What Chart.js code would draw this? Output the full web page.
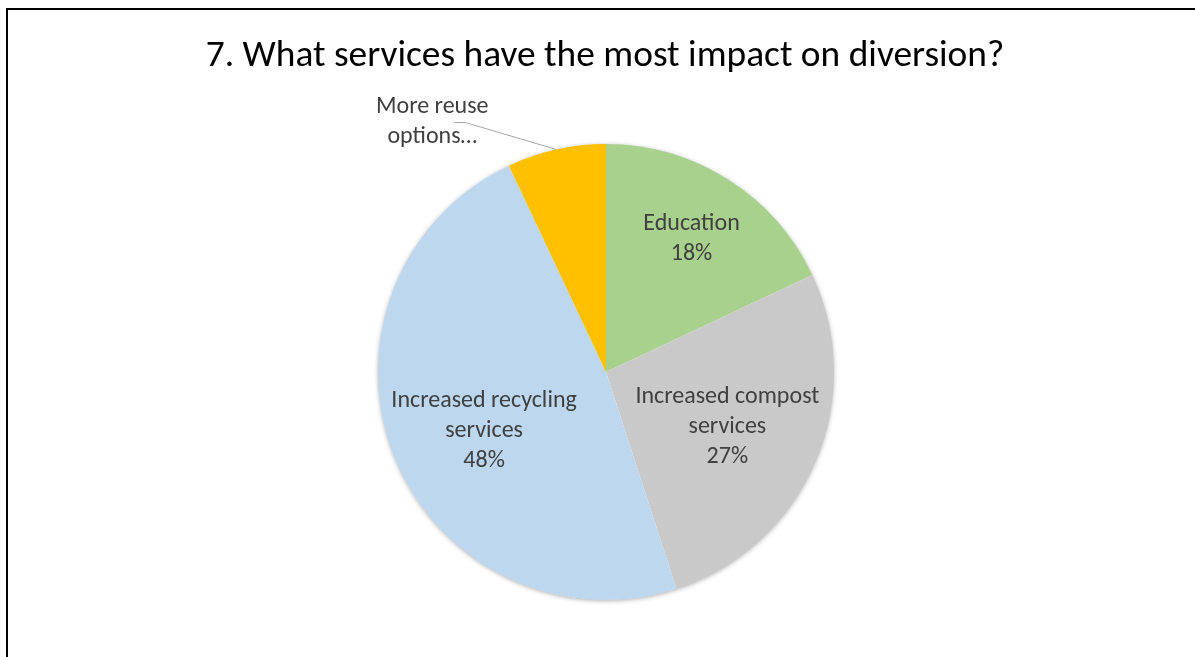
<!DOCTYPE html>
<html>
<head>
<meta charset="utf-8">
<script src="https://cdn.jsdelivr.net/npm/chart.js@4.4.1/dist/chart.umd.min.js"></script>
<style>
  html, body { margin: 0; padding: 0; background: #fff; overflow: hidden; }
  #wrap { position: relative; width: 1195px; height: 657px; }
  #frame { position: absolute; left: 6px; top: 8px; width: 1300px; height: 800px;
           border-left: 2px solid #000; border-top: 2px solid #000; pointer-events: none; }
</style>
</head>
<body>
<div id="wrap">
  <canvas id="pie" width="1195" height="657"></canvas>
  <div id="frame"></div>
</div>
<script>
const chartTitle = '7. What services have the most impact on diversion?';
const categories = ['Education', 'Increased compost services', 'Increased recycling services', 'More reuse options…'];
const labelLines = [['Education'], ['Increased compost', 'services'], ['Increased recycling', 'services'], ['More reuse', 'options…']];
const shares = [18, 27, 48, 7];
const sliceColors = ['#A9D18E', '#C9C9C9', '#BDD7EE', '#FFC000'];

const FONT = 'Carlito, Lato, "Open Sans", sans-serif';

// label distance from centre as a fraction of radius (null = outside with leader line),
// plus a small angular nudge in degrees
const labelRadius = [0.70, 0.58, 0.59, null];
const labelNudge = [0, 0, -3.4, 0];

const piePlugin = {
  id: 'pieExtras',
  beforeDatasetsDraw(chart) {
    const arc = chart.getDatasetMeta(0).data[0];
    if (!arc) return;
    const { ctx } = chart;
    ctx.save();
    ctx.shadowColor = 'rgba(0,0,0,0.35)';
    ctx.shadowBlur = 5;
    ctx.shadowOffsetY = 1;
    ctx.fillStyle = '#fff';
    ctx.beginPath();
    ctx.arc(arc.x, arc.y, arc.outerRadius - 0.5, 0, Math.PI * 2);
    ctx.fill();
    ctx.restore();
  },
  afterDraw(chart) {
    const { ctx } = chart;
    ctx.save();
    ctx.fillStyle = '#000';
    ctx.font = '37.4px ' + FONT;
    ctx.textAlign = 'center';
    ctx.textBaseline = 'middle';
    ctx.fillText(chartTitle, 605, 57);

    ctx.font = '24px ' + FONT;
    ctx.fillStyle = '#404040';
    const lineH = 30;
    chart.getDatasetMeta(0).data.forEach((arc, i) => {
      const p = arc.getProps(['x', 'y', 'startAngle', 'endAngle', 'outerRadius']);
      const mid = (p.startAngle + p.endAngle) / 2 + labelNudge[i] * Math.PI / 180;
      const lines = labelLines[i].slice();
      if (labelRadius[i] !== null) lines.push(shares[i] + '%');
      let cx, cy;
      if (labelRadius[i] !== null) {
        const r = p.outerRadius * labelRadius[i];
        cx = p.x + Math.cos(mid) * r;
        cy = p.y + Math.sin(mid) * r + 2;
      } else {
        const ex = p.x + Math.cos(mid) * p.outerRadius;
        const ey = p.y + Math.sin(mid) * p.outerRadius;
        const elbowX = ex - 91, elbowY = ey - 27;
        ctx.strokeStyle = '#A6A6A6';
        ctx.lineWidth = 1;
        ctx.beginPath();
        ctx.moveTo(ex, ey);
        ctx.lineTo(elbowX, elbowY);
        ctx.lineTo(elbowX - 11, elbowY);
        ctx.stroke();
        cx = elbowX - 33;
        cy = elbowY;
      }
      const top = cy - (lines.length - 1) * lineH / 2;
      lines.forEach((t, k) => ctx.fillText(t, cx, top + k * lineH));
    });
    ctx.restore();
  }
};

new Chart(document.getElementById('pie'), {
  type: 'pie',
  data: {
    labels: categories,
    datasets: [{
      data: shares,
      backgroundColor: sliceColors,
      borderWidth: 0,
      hoverOffset: 0,
    }],
  },
  options: {
    responsive: false,
    animation: false,
    layout: { padding: { left: 378, right: 361, top: 144, bottom: 57 } },
    plugins: {
      legend: { display: false },
      tooltip: { enabled: false },
      title: { display: false },
    },
  },
  plugins: [piePlugin],
});
</script>
</body>
</html>
